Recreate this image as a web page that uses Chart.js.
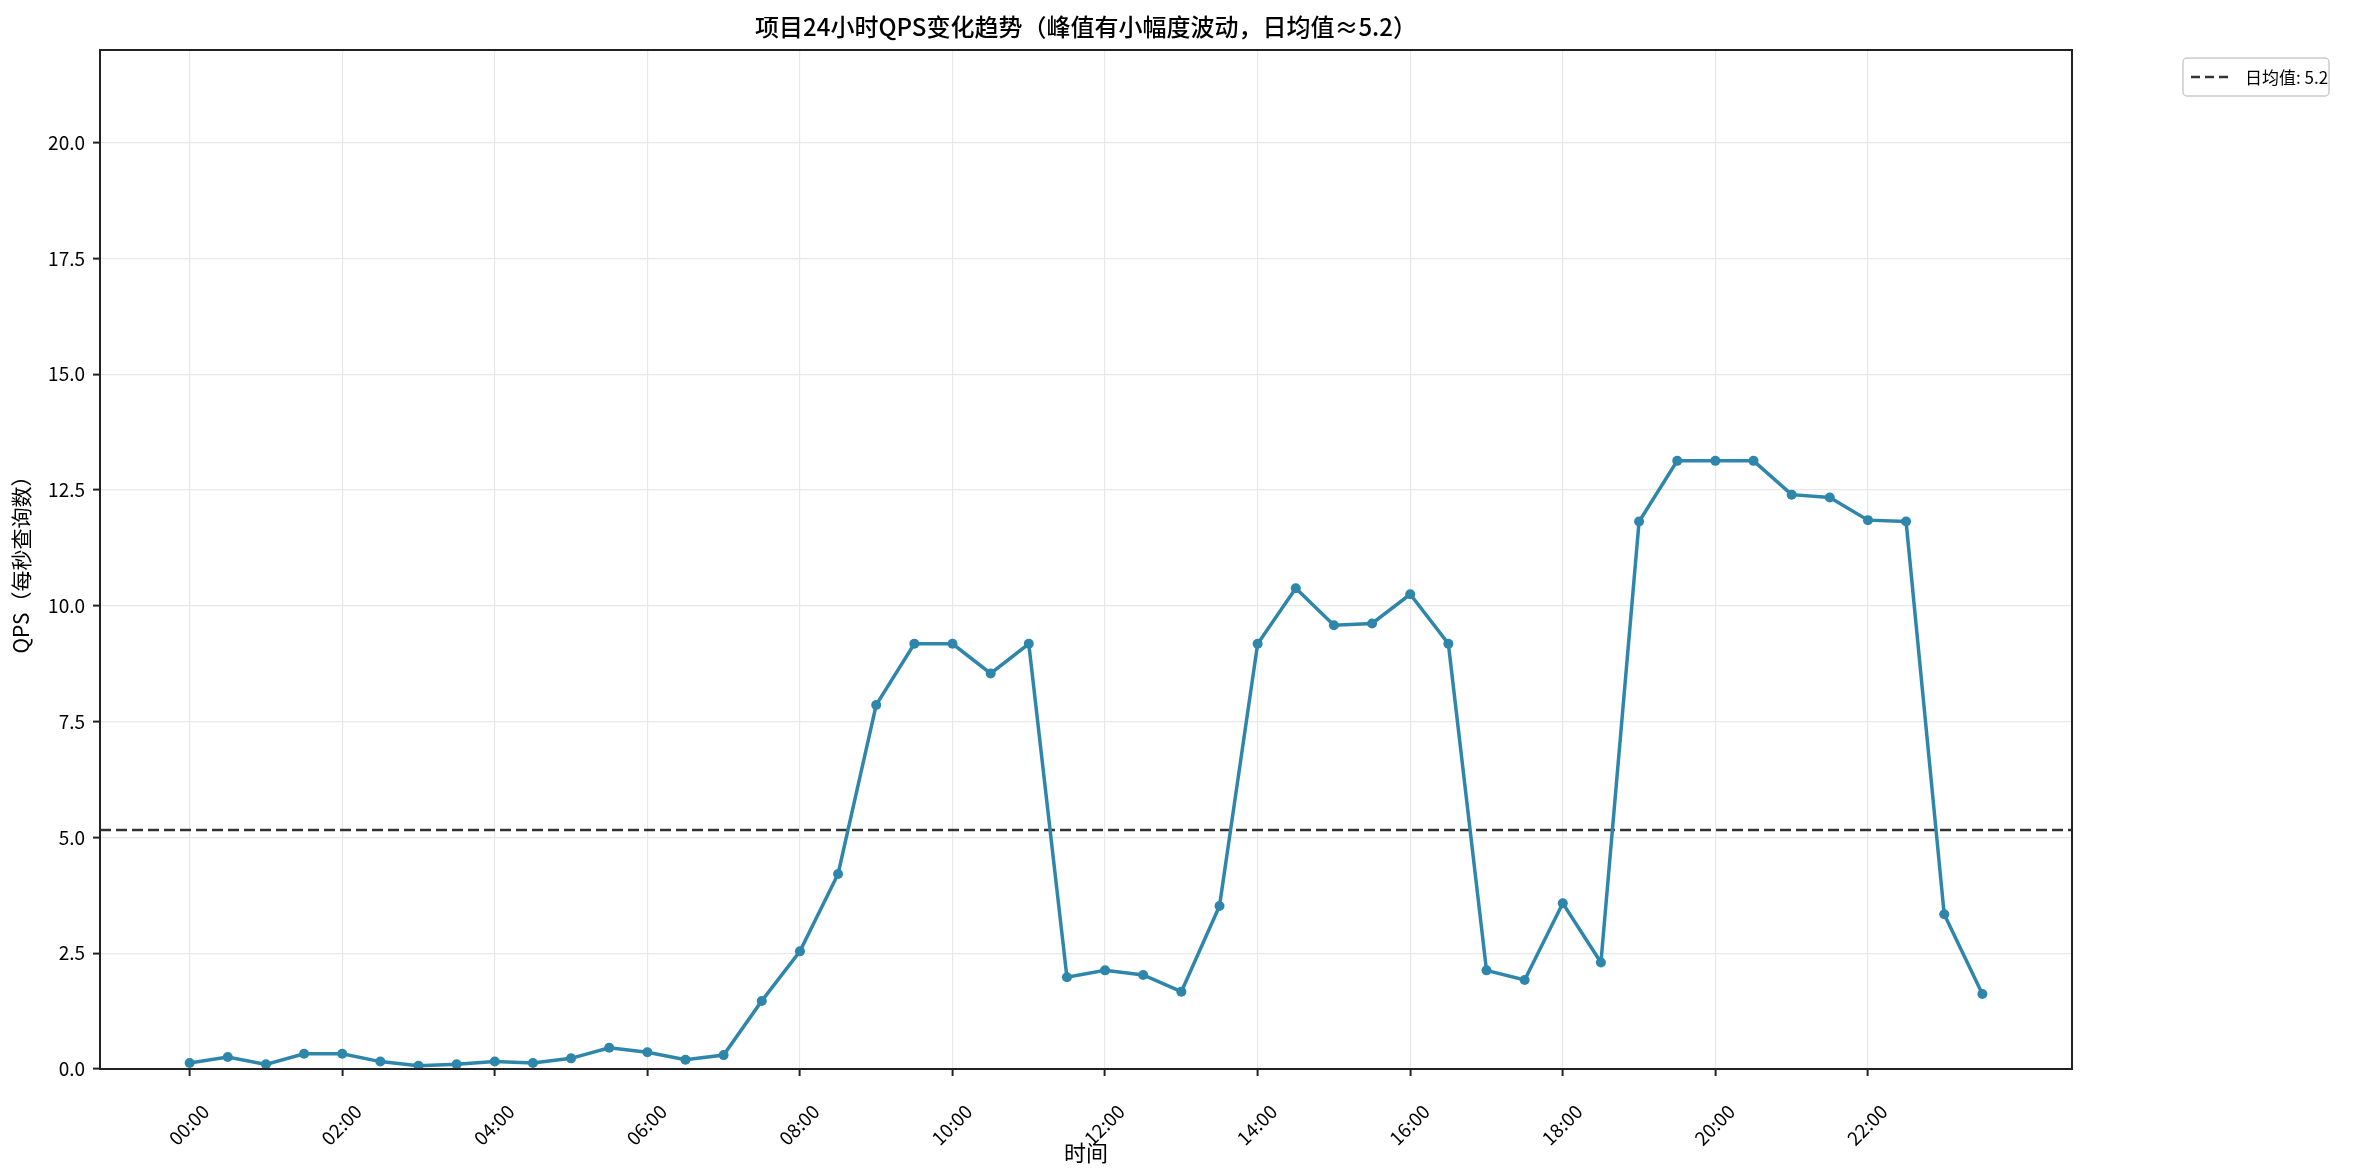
<!DOCTYPE html>
<html>
<head>
<meta charset="utf-8">
<script src="https://cdn.jsdelivr.net/npm/chart.js@4/dist/chart.umd.min.js"></script>
<style>
  html, body { margin: 0; padding: 0; background: #fff; }
  #wrap { width: 2377px; height: 1173px; }
</style>
</head>
<body>
<div id="wrap"><canvas id="qpsChart" width="2377" height="1173"></canvas></div>
<script>
// half-hour slots, 00:00 .. 23:30
const timeLabels = [
  '00:00','00:30','01:00','01:30','02:00','02:30','03:00','03:30',
  '04:00','04:30','05:00','05:30','06:00','06:30','07:00','07:30',
  '08:00','08:30','09:00','09:30','10:00','10:30','11:00','11:30',
  '12:00','12:30','13:00','13:30','14:00','14:30','15:00','15:30',
  '16:00','16:30','17:00','17:30','18:00','18:30','19:00','19:30',
  '20:00','20:30','21:00','21:30','22:00','22:30','23:00','23:30'
];
const qpsValues = [
  0.13, 0.26, 0.10, 0.33, 0.33, 0.16, 0.07, 0.10,
  0.16, 0.13, 0.23, 0.46, 0.36, 0.20, 0.30, 1.47,
  2.54, 4.21, 7.86, 9.18, 9.18, 8.54, 9.18, 1.98,
  2.13, 2.03, 1.67, 3.52, 9.18, 10.38, 9.58, 9.62,
  10.25, 9.18, 2.13, 1.92, 3.58, 2.30, 11.82, 13.13,
  13.13, 13.13, 12.40, 12.34, 11.85, 11.82, 3.34, 1.62
];
const tickLabels = ['00:00','02:00','04:00','06:00','08:00','10:00','12:00','14:00','16:00','18:00','20:00','22:00'];
const yTicks = [0, 2.5, 5, 7.5, 10, 12.5, 15, 17.5, 20];
const avgQps = 5.16;
const avgLabel = '日均值: 5.2';
const chartTitle = '项目24小时QPS变化趋势（峰值有小幅度波动，日均值≈5.2）';

const FONT = "'Noto Sans CJK SC', 'Noto Sans', sans-serif";
const lineColor = '#2E86AB';
const xMin = -2.35, xMax = 49.35;

const framePlugin = {
  id: 'frame',
  afterDraw(chart) {
    const { ctx, chartArea: a } = chart;
    ctx.save();
    // box around plot
    ctx.strokeStyle = '#222';
    ctx.lineWidth = 2;
    ctx.strokeRect(a.left, a.top, a.right - a.left, a.bottom - a.top);

    // title
    ctx.fillStyle = '#000';
    ctx.font = '500 24px ' + FONT;
    ctx.textAlign = 'center';
    ctx.textBaseline = 'middle';
    ctx.fillText(chartTitle, (a.left + a.right) / 2, 27);

    // legend
    const lx = 2183, ly = 58, lw = 146, lh = 38;
    ctx.fillStyle = '#fff';
    ctx.strokeStyle = '#cccccc';
    ctx.lineWidth = 1.5;
    ctx.beginPath();
    ctx.roundRect(lx, ly, lw, lh, 4);
    ctx.fill();
    ctx.stroke();
    ctx.strokeStyle = 'rgba(0,0,0,0.8)';
    ctx.lineWidth = 2.5;
    ctx.setLineDash([9, 5]);
    ctx.beginPath();
    ctx.moveTo(lx + 8, ly + lh / 2);
    ctx.lineTo(lx + 50, ly + lh / 2);
    ctx.stroke();
    ctx.setLineDash([]);
    ctx.fillStyle = '#000';
    ctx.font = '17px ' + FONT;
    ctx.textAlign = 'left';
    ctx.fillText(avgLabel, lx + 62, ly + lh / 2 + 1);
    ctx.restore();
  }
};

new Chart(document.getElementById('qpsChart'), {
  type: 'line',
  data: {
    datasets: [
      {
        label: 'QPS',
        data: timeLabels.map((t, i) => ({ x: i, y: qpsValues[i] })),
        borderColor: lineColor,
        backgroundColor: lineColor,
        borderWidth: 3.5,
        pointRadius: 5,
        pointBorderWidth: 0,
        pointBackgroundColor: lineColor,
        tension: 0
      },
      {
        label: avgLabel,
        data: [{ x: xMin, y: avgQps }, { x: xMax, y: avgQps }],
        borderColor: 'rgba(0,0,0,0.8)',
        borderWidth: 2.5,
        borderDash: [11, 5],
        pointRadius: 0
      }
    ]
  },
  options: {
    responsive: false,
    devicePixelRatio: 1,
    animation: false,
    layout: { padding: { top: 50, right: 305, left: 0, bottom: 0 } },
    plugins: {
      legend: { display: false },
      tooltip: { enabled: false },
      title: { display: false }
    },
    scales: {
      x: {
        type: 'linear',
        min: xMin,
        max: xMax,
        afterBuildTicks(scale) {
          scale.ticks = tickLabels.map(t => ({ value: timeLabels.indexOf(t) }));
        },
        afterFit(scale) { scale.height = 104; },
        ticks: {
          autoSkip: false,
          minRotation: 45,
          maxRotation: 45,
          padding: 24,
          labelOffset: 16,
          color: '#000',
          font: { family: FONT, size: 19 },
          callback: v => timeLabels[v]
        },
        grid: { color: '#e8e8e8', lineWidth: 1.2, tickColor: '#222', tickLength: 7, tickWidth: 2 },
        border: { color: '#222', width: 2 },
        title: {
          display: true,
          text: '时间',
          color: '#000',
          font: { family: FONT, size: 22 },
          padding: { top: 0, bottom: 7 }
        }
      },
      y: {
        min: 0,
        max: 22,
        afterBuildTicks(scale) {
          scale.ticks = yTicks.map(v => ({ value: v }));
        },
        afterFit(scale) { scale.width = 100; },
        ticks: {
          padding: 8,
          color: '#000',
          font: { family: FONT, size: 19 },
          callback: v => v.toFixed(1)
        },
        grid: { color: '#e8e8e8', lineWidth: 1.2, tickColor: '#222', tickLength: 7, tickWidth: 2 },
        border: { color: '#222', width: 2 },
        title: {
          display: true,
          text: 'QPS（每秒查询数）',
          color: '#000',
          font: { family: FONT, size: 21 },
          padding: { top: 8, bottom: 0 }
        }
      }
    }
  },
  plugins: [framePlugin]
});
</script>
</body>
</html>
